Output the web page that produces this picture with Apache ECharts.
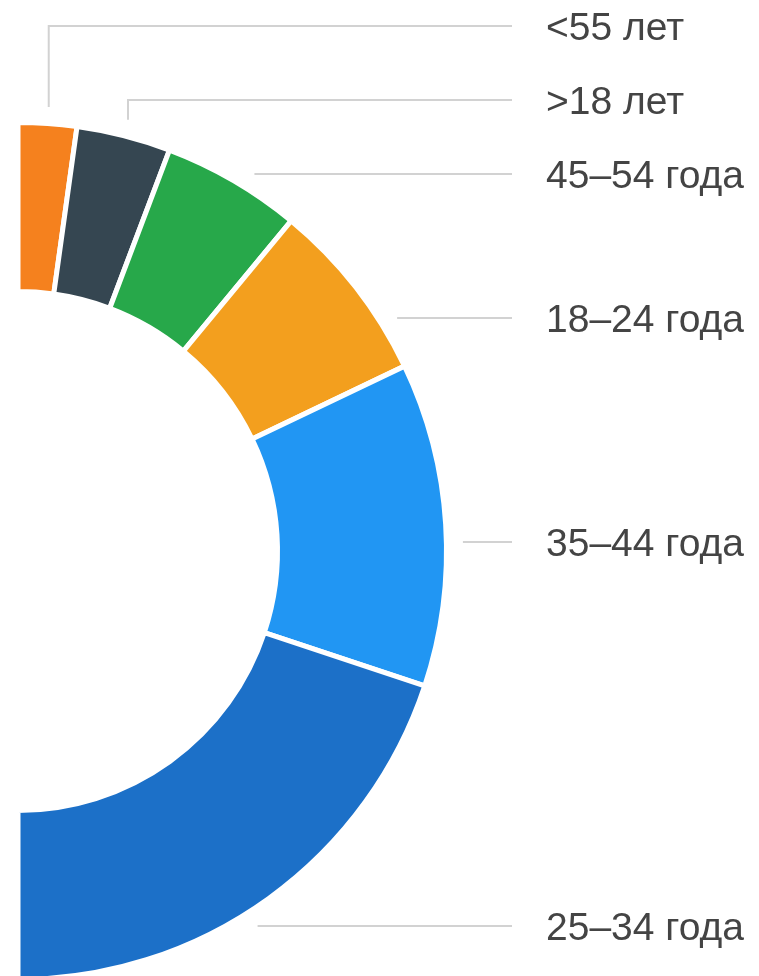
<!DOCTYPE html>
<html>
<head>
<meta charset="utf-8">
<script src="https://cdn.jsdelivr.net/npm/echarts@6/dist/echarts.min.js"></script>
<style>
  html, body { margin: 0; padding: 0; background: #ffffff; }
  #chart { width: 759px; height: 976px; }
</style>
</head>
<body>
<div id="chart"></div>
<script>
// ---- data ----
const categories = ['<55 лет', '>18 лет', '45–54 года', '18–24 года', '35–44 года', '25–34 года'];
const values = [4.4, 7.1, 10.5, 13.8, 24.4, 39.8];
const colors = ['#F5811E', '#354651', '#27A84A', '#F39F1E', '#2196F3', '#1C70C8'];

// ---- layout constants ----
const labelLineY = [26, 100, 174, 318, 542, 926];
const labelTextX = 546;
const lineEndX = 512;
const anchorR = 445;

const chart = echarts.init(document.getElementById('chart'), null, { renderer: 'canvas' });

const seriesData = categories.map((name, i) => ({
  name: name,
  value: values[i],
  itemStyle: { color: colors[i] }
}));

const TWO_PI = Math.PI * 2;
function norm(a) { a = a % TWO_PI; return a < 0 ? a + TWO_PI : a; }

function layoutLabel(params) {
  const i = params.dataIndex;
  const data = chart.getModel().getSeriesByIndex(0).getData();
  const lay = data.getItemLayout(i);
  const cx = lay.cx, cy = lay.cy;
  const ly = labelLineY[i];
  const s = Math.min(lay.startAngle, lay.endAngle);
  const e = Math.max(lay.startAngle, lay.endAngle);
  const span = e - s;
  let pts;
  const sv = (ly - cy) / anchorR;
  let inside = false, ax = 0;
  if (Math.abs(sv) <= 1) {
    const a = Math.asin(sv); // right side of the circle
    if (norm(a - s) <= span) {
      inside = true;
      ax = cx + anchorR * Math.cos(a);
    }
  }
  if (inside) {
    pts = [[ax, ly], [(ax + lineEndX) / 2, ly], [lineEndX, ly]];
  } else {
    const m = (s + e) / 2;
    const mx = cx + anchorR * Math.cos(m);
    const my = cy + anchorR * Math.sin(m);
    pts = [[mx, my], [mx, ly], [lineEndX, ly]];
  }
  return {
    x: labelTextX,
    y: ly + 3,
    align: 'left',
    verticalAlign: 'middle',
    labelLinePoints: pts
  };
}

chart.setOption({
  backgroundColor: '#ffffff',
  animation: false,
  series: [{
    type: 'pie',
    center: [18, 551],
    radius: [259.5, 428.5],
    startAngle: 90,
    endAngle: -90,
    clockwise: true,
    avoidLabelOverlap: false,
    data: seriesData,
    itemStyle: {
      borderColor: '#ffffff',
      borderWidth: 5
    },
    emphasis: { disabled: true },
    label: {
      show: true,
      position: 'outside',
      formatter: '{b}',
      color: '#444444',
      fontSize: 39,
      fontFamily: '"Liberation Sans", Arial, Helvetica, sans-serif'
    },
    labelLine: {
      show: true,
      length: 10,
      length2: 10,
      smooth: false,
      lineStyle: { color: '#d2d2d2', width: 2 }
    },
    labelLayout: layoutLabel
  }]
});
</script>
</body>
</html>
